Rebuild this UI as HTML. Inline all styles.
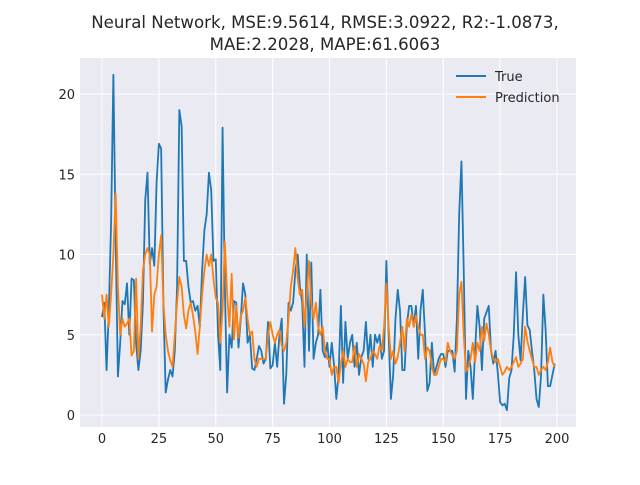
<!DOCTYPE html>
<html><head><meta charset="utf-8"><style>
body{margin:0;background:#fff;font-family:"Liberation Sans","DejaVu Sans",sans-serif;}
svg text{font-family:"DejaVu Sans","Liberation Sans",sans-serif;fill:#262626;}
</style></head><body>
<svg id="chart" width="640" height="480">
<rect width="640" height="480" fill="#fff"/>
<text x="325" y="28" font-size="16.6" text-anchor="middle">Neural Network, MSE:9.5614, RMSE:3.0922, R2:-1.0873,</text>
<text x="325" y="50" font-size="16.6" text-anchor="middle">MAE:2.2028, MAPE:61.6063</text>
<rect x="80" y="58" width="496" height="369" fill="#eaeaf2"/>
<g id="grid"></g><g id="ticks"></g><g id="series"></g>
<g>
<line x1="456" y1="76" x2="486" y2="76" stroke="#1f77b4" stroke-width="2"/>
<text x="495" y="81" font-size="13">True</text>
<line x1="456" y1="97" x2="486" y2="97" stroke="#ff7f0e" stroke-width="2"/>
<text x="495" y="102" font-size="13">Prediction</text>
</g>
</svg>
<script>
const trueVals=[6.1,7,2.8,6.5,12,21.2,11,2.4,4.5,7.1,6.9,8.2,5,8.5,8.4,4.4,2.8,4,7,13.4,15.1,9.4,10.4,9.3,14.5,16.9,16.6,6.8,1.4,2.2,2.8,2.4,4,8,19,18,9.6,9.6,8,7,7.1,6.5,6.8,5.5,9,11.5,12.5,15.1,14,9.6,9.7,5,2.8,17.9,8,1.4,5,4.2,7.1,7,4.2,6,8.2,7.5,4.5,5,2.9,2.8,3.5,4.3,4,3.2,3.5,5.8,2.9,3.1,4.5,3,5,6,0.7,2.5,7,6.5,7,9,10,8,7,3,10,4,9.5,3.5,4.5,5,7.8,4,3.6,4.5,3,4.5,3.1,1,2.5,6.8,2,5.8,3.5,4.5,5,3,4.5,2.5,3.6,4,5.8,3.5,5,3,5,4.5,5,3.5,4,9.6,5,1,2.5,6,7.8,6.5,2.8,2.8,5.6,6.8,6.8,5.5,6.8,3.5,6.5,7.8,5,1.5,2,4.5,2.5,3,3.5,3.8,3.8,3,4,4,4,2.7,6,12.5,15.8,9,1,4,3,1,4,6.8,5.5,2.8,6,6.4,6.8,4,3.2,4,2.6,0.8,0.6,0.7,0.3,2.3,2.8,5,8.9,5,3.4,6.3,8.6,5.6,5.3,4,2.8,1,0.5,2.5,7.5,5.3,1.8,1.8,2.5,3.2];
const predVals=[7.5,6,7.5,5.5,7.5,10,13.8,8,5,6,5.5,5.7,6,3.7,4,8.5,3.5,5.5,9,10,10.4,10,5.2,7.5,8,10,11.2,7,5,4,3.4,3,5,7,8.6,8,6.2,5.4,6.5,7,6.2,5.2,3.8,5.5,7.5,9,10,9.3,10,8.5,7.3,7,4.5,6.5,10.8,7.5,5.5,8.8,4.7,6.8,4.8,6.2,6.5,7.3,6,5,5.2,3.5,3,3.5,3.5,3.5,3.5,5,5.8,5,4.5,5,5.3,4.3,4,4.5,6,8,9,10.4,8.5,7.5,7.8,5.5,7.5,9.6,7,6,7,5.5,5,5.5,4,3.5,3.5,2.5,3,3,2,3.2,4,3,3.5,3.3,3.3,4.3,3,3.8,3.5,3.2,2.1,3.3,3.5,4,3.8,3.5,4.3,4,5.5,8.2,5.5,3.5,4,3.2,3.6,4.5,5.5,4,6,5.5,6.3,5.5,6.2,5.5,5,5,3.5,4.2,4,3,2.5,2.5,3,3.5,3.5,3.3,4.5,4,3.7,3.5,4,7.5,8.3,5,2.7,3,3.5,4.5,3.3,4.5,4,5.5,4.6,5.7,5,4,3.5,3.3,3.5,3,2.5,2.7,3,2.8,3,3.3,3.6,3,3.2,3.5,5.5,4.6,4,3.5,3,3,2.5,2.8,3,2.8,3.3,4.2,3.3,3];
const xTicks=[0,25,50,75,100,125,150,175,200];
const yTicks=[0,5,10,15,20];
const NS='http://www.w3.org/2000/svg';
const xs=v=>102+v*(557-102)/200;
const ys=v=>415-v*(415-94)/20;
const grid=document.getElementById('grid'),ticks=document.getElementById('ticks'),ser=document.getElementById('series');
xTicks.forEach(t=>{
 const l=document.createElementNS(NS,'line');
 l.setAttribute('x1',xs(t));l.setAttribute('x2',xs(t));l.setAttribute('y1',58);l.setAttribute('y2',427);
 l.setAttribute('stroke','#fff');l.setAttribute('stroke-width','1');
 
 
 grid.appendChild(l);
 const tx=document.createElementNS(NS,'text');
 tx.setAttribute('x',xs(t));tx.setAttribute('y',443);tx.setAttribute('font-size','13');tx.setAttribute('text-anchor','middle');
 tx.textContent=t;
 
 
 ticks.appendChild(tx);
});
yTicks.forEach(t=>{
 const l=document.createElementNS(NS,'line');
 l.setAttribute('x1',80);l.setAttribute('x2',576);l.setAttribute('y1',ys(t));l.setAttribute('y2',ys(t));
 l.setAttribute('stroke','#fff');l.setAttribute('stroke-width','1');
 
 
 grid.appendChild(l);
 const tx=document.createElementNS(NS,'text');
 tx.setAttribute('x',75);tx.setAttribute('y',ys(t)+5);tx.setAttribute('font-size','13');tx.setAttribute('text-anchor','end');
 tx.textContent=t;
 
 
 ticks.appendChild(tx);
});
function line(vals,color,name){
 const p=document.createElementNS(NS,'polyline');
 p.setAttribute('points',vals.map((v,i)=>xs(i).toFixed(2)+','+ys(v).toFixed(2)).join(' '));
 p.setAttribute('fill','none');p.setAttribute('stroke',color);p.setAttribute('stroke-width','1.8');p.setAttribute('stroke-linejoin','round');
 
 
 ser.appendChild(p);
}
line(trueVals,'#1f77b4','true-line');
line(predVals,'#ff7f0e','prediction-line');
</script>
</body></html>
